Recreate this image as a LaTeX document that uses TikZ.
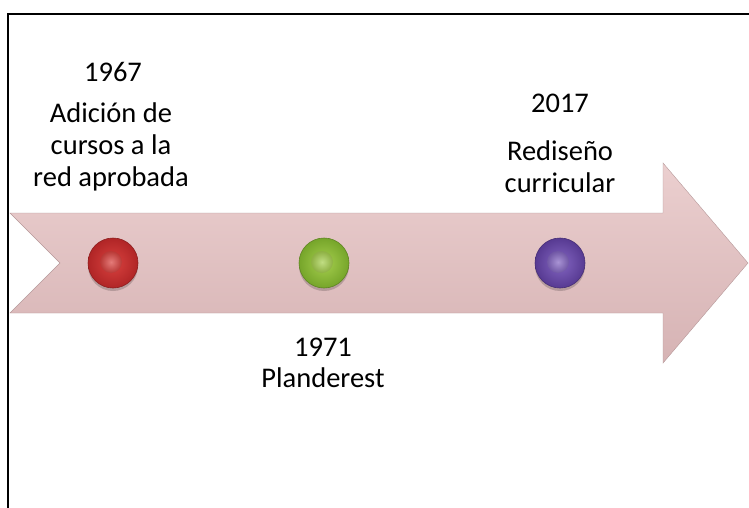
\documentclass[tikz,border=0pt]{standalone}
\usepackage{fontspec}
\setmainfont{Carlito}
\usetikzlibrary{shadings}
\definecolor{arrowtop}{HTML}{EBCFCF}
\definecolor{arrowbot}{HTML}{D6B3B4}
\definecolor{redout}{HTML}{B02526}
\definecolor{redin}{HTML}{D9423F}
\definecolor{greenout}{HTML}{76A52A}
\definecolor{greenin}{HTML}{A6CF4E}
\definecolor{purpout}{HTML}{573A92}
\definecolor{purpin}{HTML}{8466C2}
\tikzset{
  lbl/.style={font=\fontsize{28.5}{32}\selectfont, align=center, text=black, inner sep=0pt},
  dotbox/.style={circle, minimum size=50pt, inner sep=0pt}
}
\newcommand{\mydot}[4]{%
  \fill[black, opacity=0.18] (#1,#2+3) circle (25);
  \shade[inner color=#4, outer color=#3] (#1,#2) circle (25);
  \draw[#3!80!black, line width=0.6pt] (#1,#2) circle (25);
  \shade[inner color=#4!70!white, outer color=#4!85!black] (#1-2,#2-1) circle (11);
}
\begin{document}
\begin{tikzpicture}[x=1pt,y=-1pt]
\useasboundingbox (0,0) rectangle (749,508);
\fill[white] (0,0) rectangle (749,508);
% frame
\draw[line width=1.8pt, black] (8,508) -- (8,14) -- (749,14);
% arrow
\shade[top color=arrowtop, bottom color=arrowbot, draw=arrowbot!85!black, line width=0.4pt]
  (10,213) -- (663,213) -- (663,163) -- (748,263) -- (663,363) -- (663,313) -- (10,313) -- (60,263) -- cycle;
% dots
\mydot{113}{263}{redout}{redin}
\mydot{324}{263}{greenout}{greenin}
\mydot{560}{263}{purpout}{purpin}
\node[dotbox] (d1) at (113,263) {};
\node[dotbox] (d2) at (324,263) {};
\node[dotbox] (d3) at (560,263) {};
% labels
\node[lbl] (y1) at (113,72) {1967};
\node[lbl] (t1) at (111,147) {Adición de\\cursos a la\\red aprobada};
\node[lbl] (y2) at (323,347) {1971};
\node[lbl] (t2) at (323,378) {Planderest};
\node[lbl] (y3) at (560,103) {2017};
\node[lbl] (t3) at (560,167) {Rediseño\\curricular};
\end{tikzpicture}
\end{document}
